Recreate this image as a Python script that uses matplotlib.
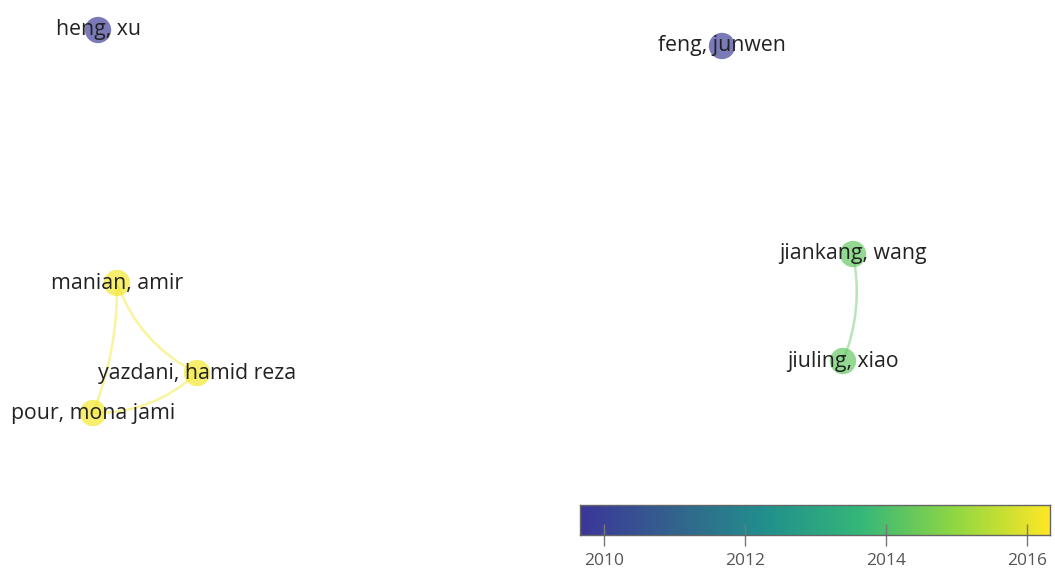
import numpy as np
import matplotlib.pyplot as plt
from matplotlib.patches import FancyArrowPatch
from matplotlib.colors import LinearSegmentedColormap, Normalize

# author nodes (layout coords from the map) and average publication year
names = ['heng, xu', 'feng, junwen', 'manian, amir', 'yazdani, hamid reza',
         'pour, mona jami', 'jiankang, wang', 'jiuling, xiao']
node_x = [98, 722, 117, 197, 93, 853, 843]
node_y = [30, 46, 283, 373, 413, 254, 361]
years = [2009.8, 2009.8, 2016.2, 2016.2, 2016.2, 2014.3, 2014.3]

# co-authorship links (index pairs) and arc bend
links = [(2, 3), (3, 4), (2, 4), (5, 6)]
bend = [0.2, -0.2, -0.1, -0.15]

cbar_ticks = [2010, 2012, 2014, 2016]
ymin, ymax = 2009.66, 2016.33

# viridis-like scale as in the overlay map
cmap = LinearSegmentedColormap.from_list(
    'vos', [(0.0, '#3c3799'), (0.2, '#33638d'), (0.4, '#21918c'),
            (0.6, '#35b779'), (0.8, '#90d743'), (1.0, '#fde725')])
norm = Normalize(ymin, ymax)

plt.rcParams['font.family'] = ['Open Sans', 'DejaVu Sans']

fig = plt.figure(figsize=(10.55, 5.75), dpi=100)
ax = fig.add_axes([0, 0, 1, 1])
ax.set_xlim(0, 1055)
ax.set_ylim(575, 0)
ax.axis('off')

for (a, b), r in zip(links, bend):
    col = cmap(norm(years[a]))
    arc = FancyArrowPatch((node_x[a], node_y[a]), (node_x[b], node_y[b]),
                          connectionstyle='arc3,rad=%s' % r, arrowstyle='-',
                          color=col, alpha=0.45, lw=1.8, shrinkA=0, shrinkB=0, zorder=1)
    ax.add_patch(arc)

ax.scatter(node_x, node_y, s=360, c=[cmap(norm(y)) for y in years],
           alpha=0.68, edgecolors='none', zorder=2)

for x, y, n in zip(node_x, node_y, names):
    ax.text(x, y, n, ha='center', va='center', fontsize=15.3, color='#222222', zorder=3)

# colour bar for average year
cax = fig.add_axes([580 / 1055, (575 - 535) / 575, 470 / 1055, 30 / 575])
grad = np.linspace(ymin, ymax, 400).reshape(1, -1)
cax.imshow(grad, cmap=cmap, norm=norm, aspect='auto', extent=[ymin, ymax, 0, 1])
cax.set_yticks([])
cax.set_xticks(cbar_ticks)
cax.set_xticklabels([str(t) for t in cbar_ticks])
cax.tick_params(axis='x', direction='inout', length=16, width=1, color='#777777',
                labelsize=12.5, labelcolor='#555555', pad=5)
for s in cax.spines.values():
    s.set_color('#666666')
    s.set_linewidth(1)

fig.savefig('out.png', dpi=100, facecolor='white')
